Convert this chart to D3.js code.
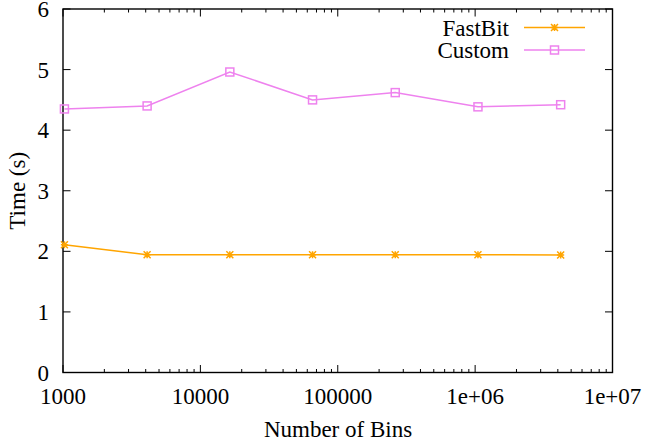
<!DOCTYPE html>
<html><head><meta charset="utf-8">
<script src="https://cdn.jsdelivr.net/npm/d3@7"></script>
<style>body{margin:0;background:#fff}svg{display:block}text{font-family:"Liberation Serif","Times New Roman",serif;fill:#000}</style>
</head><body><svg id="c" width="645" height="445"></svg>
<script>
const bins = [1024, 4096, 16384, 65536, 262144, 1048576, 4194304];
const fastbit = [2.11, 1.945, 1.945, 1.945, 1.945, 1.945, 1.94];
const custom = [4.35, 4.40, 4.96, 4.50, 4.62, 4.385, 4.42];
const xTicks = [1000, 10000, 100000, 1e6, 1e7];
const xTickLabels = ["1000", "10000", "100000", "1e+06", "1e+07"];
const yTicks = [0, 1, 2, 3, 4, 5, 6];
const seriesNames = ["FastBit", "Custom"];

const svg = d3.select("#c");
const L = 63, R = 612.5, T = 9, B = 372.5;
const x = d3.scaleLog().domain([1000, 1e7]).range([L, R]);
const y = d3.scaleLinear().domain([0, 6]).range([B, T]);
const fs = 23;
const major = 7.5, minor = 3.5;

const g = svg.append("g");
g.append("rect").attr("x", L).attr("y", T).attr("width", R - L).attr("height", B - T)
  .attr("fill", "none").attr("stroke", "#000").attr("stroke-width", 1.4);

const minorTicks = [];
for (let d = 1000; d < 1e7; d *= 10) for (let k = 2; k <= 9; k++) minorTicks.push(d * k);
const tk = g.append("g").attr("stroke", "#000").attr("stroke-width", 1);
xTicks.forEach(v => {
  tk.append("line").attr("x1", x(v)).attr("x2", x(v)).attr("y1", B).attr("y2", B - major);
  tk.append("line").attr("x1", x(v)).attr("x2", x(v)).attr("y1", T).attr("y2", T + major);
});
minorTicks.forEach(v => {
  tk.append("line").attr("x1", x(v)).attr("x2", x(v)).attr("y1", B).attr("y2", B - minor);
  tk.append("line").attr("x1", x(v)).attr("x2", x(v)).attr("y1", T).attr("y2", T + minor);
});
yTicks.forEach(v => {
  tk.append("line").attr("x1", L).attr("x2", L + major).attr("y1", y(v)).attr("y2", y(v));
  tk.append("line").attr("x1", R).attr("x2", R - major).attr("y1", y(v)).attr("y2", y(v));
});
xTicks.forEach((v, i) => {
  g.append("text").attr("x", x(v)).attr("y", 404).attr("text-anchor", "middle")
    .attr("font-size", fs).text(xTickLabels[i]);
});
yTicks.forEach(v => {
  g.append("text").attr("x", 49).attr("y", y(v) + 8).attr("text-anchor", "end")
    .attr("font-size", fs).text(String(v));
});
g.append("text").attr("x", 338).attr("y", 437).attr("text-anchor", "middle").attr("font-size", fs).text("Number of Bins");
g.append("text").attr("transform", "translate(25," + ((T + B) / 2) + ") rotate(-90)")
  .attr("text-anchor", "middle").attr("font-size", fs).text("Time (s)");

const colors = ["#ffa500", "#ee82ee"];
const data = [fastbit, custom];
const line = d3.line().x(d => x(d[0])).y(d => y(d[1]));

function star(sel, cx, cy, c) {
  const s = 3.5;
  sel.append("path").attr("d",
    `M${cx - s},${cy}L${cx + s},${cy}M${cx},${cy - s}L${cx},${cy + s}M${cx - s},${cy - s}L${cx + s},${cy + s}M${cx - s},${cy + s}L${cx + s},${cy - s}`)
    .attr("stroke", c).attr("stroke-width", 1.5).attr("fill", "none");
}
function square(sel, cx, cy, c) {
  const s = 4;
  sel.append("rect").attr("x", cx - s).attr("y", cy - s).attr("width", 2 * s).attr("height", 2 * s)
    .attr("stroke", c).attr("stroke-width", 1.5).attr("fill", "none");
}
const markers = [star, square];

data.forEach((vals, si) => {
  const pts = bins.map((b, i) => [b, vals[i]]);
  g.append("path").datum(pts).attr("d", line).attr("fill", "none")
    .attr("stroke", colors[si]).attr("stroke-width", 1.5);
  const mg = g.append("g");
  pts.forEach(p => markers[si](mg, x(p[0]), y(p[1]), colors[si]));
});

const legY = [27.5, 50];
seriesNames.forEach((n, i) => {
  g.append("text").attr("x", 509).attr("y", legY[i] + 8).attr("text-anchor", "end").attr("font-size", fs).text(n);
  g.append("line").attr("x1", 524).attr("x2", 585).attr("y1", legY[i]).attr("y2", legY[i])
    .attr("stroke", colors[i]).attr("stroke-width", 1.5);
  markers[i](g, 554.5, legY[i], colors[i]);
});
</script></body></html>
